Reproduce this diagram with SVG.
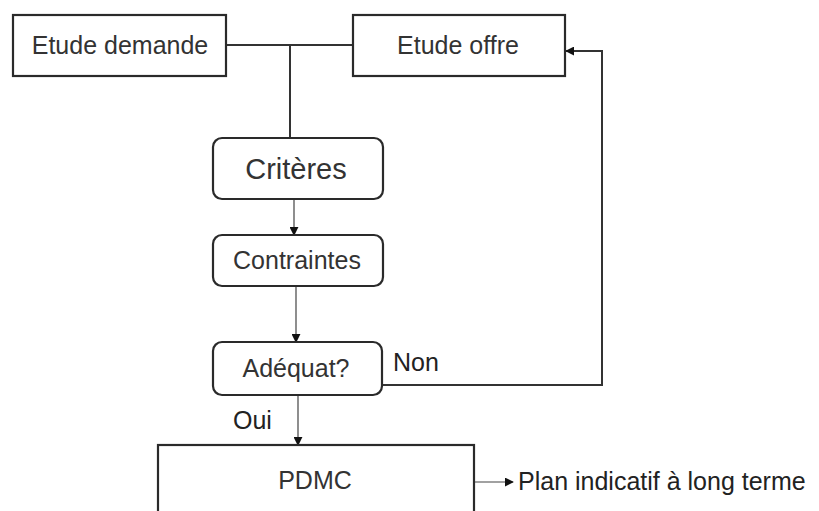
<svg xmlns="http://www.w3.org/2000/svg" width="819" height="511" viewBox="0 0 819 511">
<defs>
<style>
.box{fill:#fff;stroke:#2a2a2a;stroke-width:2.2}
.t{font-family:"Liberation Sans",Arial,sans-serif;font-size:25px;fill:#333;text-anchor:middle}
.l{font-family:"Liberation Sans",Arial,sans-serif;font-size:25px;fill:#222}
.c{fill:none;stroke:#333;stroke-width:2}
.thin{fill:none;stroke:#444;stroke-width:1.2}
</style>
<marker id="ah" viewBox="0 0 10 10" refX="9" refY="5" markerWidth="9" markerHeight="9" markerUnits="userSpaceOnUse" orient="auto">
<path d="M0,0 L10,5 L0,10 z" fill="#111"/>
</marker>
</defs>
<rect width="819" height="511" fill="#fff"/>
<g id="connectors">
<path class="c" d="M226,45 H353"/>
<path class="c" d="M290,45 V138"/>
<path class="thin" d="M294,199 V235" marker-end="url(#ah)"/>
<path class="thin" d="M296,286 V342" marker-end="url(#ah)"/>
<path class="thin" d="M298,395 V445" marker-end="url(#ah)"/>
<path class="c" d="M382,385 H602 V51 H566" marker-end="url(#ah)"/>
<path class="thin" d="M474,482 H513" marker-end="url(#ah)"/>
</g>
<g id="etude-demande">
<rect class="box" x="13" y="15" width="213" height="61"/>
<text class="t" x="120" y="54">Etude demande</text>
</g>
<g id="etude-offre">
<rect class="box" x="353" y="15" width="212" height="61"/>
<text class="t" x="458" y="54">Etude offre</text>
</g>
<g id="criteres">
<rect class="box" x="213" y="138" width="170" height="61" rx="9"/>
<text class="t" x="296" y="179" style="font-size:29px">Critères</text>
</g>
<g id="contraintes">
<rect class="box" x="213" y="235" width="170" height="51" rx="9"/>
<text class="t" x="297" y="269">Contraintes</text>
</g>
<g id="adequat">
<rect class="box" x="213" y="342" width="169" height="53" rx="9"/>
<text class="t" x="296" y="377">Adéquat?</text>
</g>
<g id="pdmc">
<rect class="box" x="158" y="445" width="316" height="80"/>
<text class="t" x="315" y="489">PDMC</text>
</g>
<g id="labels">
<text class="l" x="393" y="371">Non</text>
<text class="l" x="233" y="429">Oui</text>
<text class="l" x="518" y="490">Plan indicatif à long terme</text>
</g>
</svg>
